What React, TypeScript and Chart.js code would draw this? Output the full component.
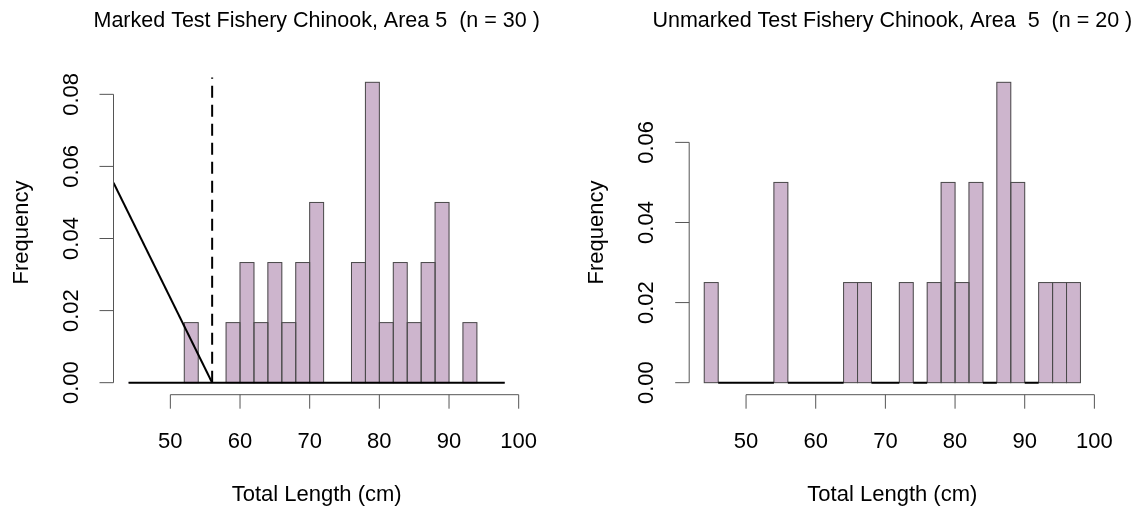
import React, { useEffect, useRef } from "react";
import { Chart, registerables } from "chart.js";

Chart.register(...registerables);

// ---- data ----
const binStarts = [44, 46, 48, 50, 52, 54, 56, 58, 60, 62, 64, 66, 68, 70, 72, 74, 76, 78, 80, 82, 84, 86, 88, 90, 92, 94, 96];
const binWidth = 2;
const markedCounts = [0, 0, 0, 0, 1, 0, 0, 1, 2, 1, 2, 1, 2, 3, 0, 0, 2, 5, 1, 2, 1, 2, 3, 0, 1, 0, 0];
const unmarkedCounts = [1, 0, 0, 0, 0, 2, 0, 0, 0, 0, 1, 1, 0, 0, 1, 0, 1, 2, 1, 2, 0, 3, 2, 0, 1, 1, 1];
const markedN = 30;
const unmarkedN = 20;

const xTicks = [50, 60, 70, 80, 90, 100];
const markedYTicks = [0, 0.02, 0.04, 0.06, 0.08];
const unmarkedYTicks = [0, 0.02, 0.04, 0.06];

const markedTitle = "Marked Test Fishery Chinook, Area 5  (n = 30 )";
const unmarkedTitle = "Unmarked Test Fishery Chinook, Area  5  (n = 20 )";
const xLabel = "Total Length (cm)";
const yLabel = "Frequency";

// reference lines on the marked panel
const cutoffX = [56, 56];
const cutoffY = [0, 0.0847];
const trendX = [41.84, 56];
const trendY = [0.0555, 0];

// ---- style ----
const FONT = "'Liberation Sans', Arial, Helvetica, sans-serif";
const BAR_FILL = "#CDB5CD";
const BAR_BORDER = "#4a4a4a";
const AXIS_COLOR = "#555555";
const W = 569;
const H = 512;

type PanelDef = {
  counts: number[];
  n: number;
  yTicks: number[];
  title: string;
  padLeft: number;
  padRight: number;
  fullBaseline: boolean;
  refLines: boolean;
};

const rPlotPlugin = {
  id: "rPlot",
  afterDatasetDraw(chart: any, args: any) {
    if (args.meta.type !== "bar") return;
    const ctx = chart.ctx;
    ctx.save();
    ctx.strokeStyle = BAR_BORDER;
    ctx.lineWidth = 1;
    args.meta.data.forEach((el: any) => {
      const p = el.getProps(["x", "y", "base", "width"], true);
      if (Math.abs(p.base - p.y) < 0.5) return;
      ctx.strokeRect(p.x - p.width / 2, p.y, p.width, p.base - p.y);
    });
    ctx.restore();
  },
  afterDraw(chart: any, _args: any, opts: any) {
    const ctx = chart.ctx;
    const xs = chart.scales.x;
    const ys = chart.scales.y;
    const area = chart.chartArea;
    const tick = 14;
    ctx.save();
    ctx.strokeStyle = AXIS_COLOR;
    ctx.lineWidth = 1;
    ctx.fillStyle = "#000";

    // x axis
    const xb = area.bottom;
    ctx.beginPath();
    ctx.moveTo(xs.getPixelForValue(xTicks[0]), xb);
    ctx.lineTo(xs.getPixelForValue(xTicks[xTicks.length - 1]), xb);
    xTicks.forEach((v) => {
      const px = xs.getPixelForValue(v);
      ctx.moveTo(px, xb);
      ctx.lineTo(px, xb + tick);
    });
    ctx.stroke();
    ctx.font = `22px ${FONT}`;
    ctx.textAlign = "center";
    ctx.textBaseline = "middle";
    xTicks.forEach((v) => {
      ctx.fillText(String(v), xs.getPixelForValue(v), xb + 47);
    });

    // y axis
    const yl = area.left;
    const yt: number[] = opts.yTicks;
    ctx.beginPath();
    ctx.moveTo(yl, ys.getPixelForValue(yt[0]));
    ctx.lineTo(yl, ys.getPixelForValue(yt[yt.length - 1]));
    yt.forEach((v) => {
      const py = ys.getPixelForValue(v);
      ctx.moveTo(yl, py);
      ctx.lineTo(yl - tick, py);
    });
    ctx.stroke();
    yt.forEach((v) => {
      ctx.save();
      ctx.translate(yl - 42, ys.getPixelForValue(v));
      ctx.rotate(-Math.PI / 2);
      ctx.fillText(v.toFixed(2), 0, 0);
      ctx.restore();
    });

    // axis titles
    const cx = (area.left + area.right) / 2;
    const cy = (area.top + area.bottom) / 2;
    ctx.fillText(xLabel, cx, xb + 100);
    ctx.save();
    ctx.translate(yl - 92, cy);
    ctx.rotate(-Math.PI / 2);
    ctx.fillText(yLabel, 0, 0);
    ctx.restore();

    // main title
    ctx.font = `21.5px ${FONT}`;
    ctx.fillText(opts.title, cx, 21);
    ctx.restore();
  },
};

function Panel({ def }: { def: PanelDef }) {
  const ref = useRef<HTMLCanvasElement | null>(null);

  useEffect(() => {
    if (!ref.current) return;
    const first = binStarts[0];
    const last = binStarts[binStarts.length - 1] + binWidth;
    const xPad = 0.04 * (last - first);
    const density = def.counts.map((c) => c / (def.n * binWidth));
    const maxD = Math.max(...density);

    const barData = binStarts.map((s, i) => ({ x: s + binWidth / 2, y: density[i] }));

    const datasets: any[] = [];
    datasets.push({
      type: "bar",
      data: barData,
      backgroundColor: BAR_FILL,
      borderWidth: 0,
      barPercentage: 1,
      categoryPercentage: 1,
      order: 10,
    });

    // zero baseline segments
    const basePts: any[] = [];
    if (def.fullBaseline) {
      basePts.push({ x: first, y: 0 }, { x: last, y: 0 });
    } else {
      binStarts.forEach((s, i) => {
        if (def.counts[i] === 0) {
          basePts.push({ x: s, y: 0 }, { x: s + binWidth, y: 0 }, { x: s + binWidth, y: null });
        }
      });
    }
    datasets.push({
      type: "line",
      data: basePts,
      borderColor: "#000",
      borderWidth: 2,
      pointRadius: 0,
      spanGaps: false,
      order: 1,
    });

    if (def.refLines) {
      datasets.push({
        type: "line",
        data: trendX.map((x, i) => ({ x, y: trendY[i] })),
        borderColor: "#000",
        borderWidth: 2,
        pointRadius: 0,
        order: 0,
      });
      datasets.push({
        type: "line",
        data: cutoffX.map((x, i) => ({ x, y: cutoffY[i] })),
        borderColor: "#000",
        borderWidth: 2,
        borderDash: [12, 7],
        pointRadius: 0,
        order: 0,
      });
    }

    const chart = new Chart(ref.current, {
      type: "bar",
      data: { datasets },
      options: {
        animation: false,
        responsive: false,
        maintainAspectRatio: false,
        devicePixelRatio: 1,
        events: [],
        layout: {
          padding: { left: def.padLeft, right: def.padRight, top: 70.3, bottom: 117.3 },
        },
        plugins: {
          legend: { display: false },
          tooltip: { enabled: false },
          rPlot: { yTicks: def.yTicks, title: def.title },
        } as any,
        scales: {
          x: {
            type: "linear",
            display: false,
            offset: false,
            grid: { offset: false },
            min: first - xPad,
            max: last + xPad,
            afterBuildTicks: (scale: any) => {
              scale.ticks = xTicks.map((v) => ({ value: v }));
            },
          },
          y: {
            type: "linear",
            display: false,
            offset: false,
            min: -0.04 * maxD,
            max: 1.04 * maxD,
            afterBuildTicks: (scale: any) => {
              scale.ticks = def.yTicks.map((v) => ({ value: v }));
            },
          },
        },
      },
      plugins: [rPlotPlugin],
    } as any);
    return () => chart.destroy();
  }, [def]);

  return (
    <canvas
      ref={ref}
      width={W}
      height={H}
      style={{ display: "block", width: W, height: H }}
    />
  );
}

const markedPanel: PanelDef = {
  counts: markedCounts,
  n: markedN,
  yTicks: markedYTicks,
  title: markedTitle,
  padLeft: 113.5,
  padRight: 49.2,
  fullBaseline: true,
  refLines: true,
};

const unmarkedPanel: PanelDef = {
  counts: unmarkedCounts,
  n: unmarkedN,
  yTicks: unmarkedYTicks,
  title: unmarkedTitle,
  padLeft: 120.2,
  padRight: 42.5,
  fullBaseline: false,
  refLines: false,
};

export default function App() {
  return (
    <div
      style={{
        position: "absolute",
        left: 0,
        top: 0,
        width: 1138,
        height: 512,
        display: "flex",
        background: "#fff",
      }}
    >
      <Panel def={markedPanel} />
      <Panel def={unmarkedPanel} />
    </div>
  );
}
